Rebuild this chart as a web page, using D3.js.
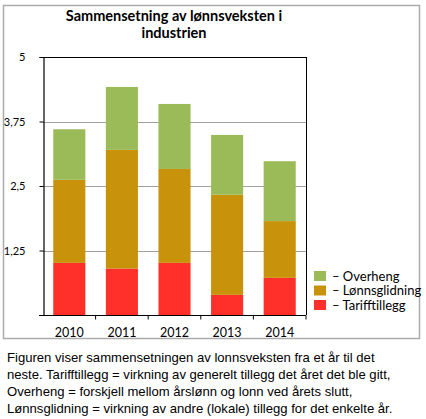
<!DOCTYPE html>
<html><head><meta charset="utf-8">
<script src="https://cdn.jsdelivr.net/npm/d3@7"></script>
<style>body{margin:0;background:#fff}svg{display:block}</style>
</head><body>
<script>
const years = ["2010","2011","2012","2013","2014"];
const tarifftillegg = [1.01, 0.90, 1.01, 0.39, 0.72];
const lonnsglidning = [1.61, 2.30, 1.82, 1.94, 1.10];
const overheng = [0.98, 1.22, 1.26, 1.16, 1.16];
const seriesNames = ["Tarifftillegg","Lønnsglidning","Overheng"];
const seriesColors = ["#FF2F2A","#C8920A","#9BBB59"];
const yTicks = [0, 1.25, 2.5, 3.75, 5];
const yTickLabels = ["", "1,25", "2,5", "3,75", "5"];
const caption = [
  "Figuren viser sammensetningen av lonnsveksten fra et år til det",
  "neste. Tarifftillegg = virkning av generelt tillegg det året det ble gitt,",
  "Overheng = forskjell mellom årslønn og lonn ved årets slutt,",
  "Lønnsglidning = virkning av andre (lokale) tillegg for det enkelte år."
];

(function(){
const W = 426, H = 419;
const svg = d3.select("body").append("svg").attr("width", W).attr("height", H);
svg.append("rect").attr("width", W).attr("height", H).attr("fill", "#fff");
// outer frame
svg.append("rect").attr("x", 3.5).attr("y", 5.5).attr("width", 416).attr("height", 333)
  .attr("fill", "none").attr("stroke", "#ababab").attr("stroke-width", 1.5);

const pL = 43, pR = 306, pT = 57, pB = 315;
const x = d3.scaleBand().domain(years).range([pL, pR]).paddingInner(0.39).paddingOuter(0.195);
const y = d3.scaleLinear().domain([0, 5]).range([pB, pT]);

// gridlines
svg.append("g").selectAll("line").data(yTicks.filter(t => t > 0 && t < 5)).join("line")
  .attr("x1", pL).attr("x2", pR).attr("y1", d => Math.round(y(d)) + 0.5).attr("y2", d => Math.round(y(d)) + 0.5)
  .attr("stroke", "#a0a0a0").attr("stroke-width", 1);

// stacked bars
const rows = years.map((yr, i) => ({year: yr, Tarifftillegg: tarifftillegg[i], "Lønnsglidning": lonnsglidning[i], Overheng: overheng[i]}));
const stack = d3.stack().keys(seriesNames)(rows);
svg.append("g").selectAll("g").data(stack).join("g")
  .attr("fill", (d, i) => seriesColors[i])
  .selectAll("rect").data(d => d).join("rect")
  .attr("x", d => x(d.data.year)).attr("width", x.bandwidth())
  .attr("y", d => y(d[1])).attr("height", d => y(d[0]) - y(d[1]));

// plot frame (top and right)
svg.append("line").attr("x1", pL).attr("x2", pR).attr("y1", pT + 0.5).attr("y2", pT + 0.5).attr("stroke", "#000");
svg.append("line").attr("x1", pR + 0.5).attr("x2", pR + 0.5).attr("y1", pT).attr("y2", pB).attr("stroke", "#000");

// y axis
const yAxis = d3.axisLeft(y).tickValues(yTicks).tickSize(4).tickPadding(14)
  .tickFormat((d, i) => yTickLabels[i]);
const gy = svg.append("g").attr("transform", `translate(${pL + 0.5},0)`).call(yAxis);
gy.select(".domain").attr("stroke", "#000").attr("stroke-width", 1.2);
gy.selectAll(".tick line").attr("stroke", "#000");
gy.selectAll("text").attr("font-family", "Lato, 'Open Sans', sans-serif").attr("font-size", 11).attr("fill", "#000");

// x axis
const xLine = d3.scaleLinear().domain([0, years.length]).range([pL, pR]);
const gx = svg.append("g").attr("transform", `translate(0,${pB + 0.5})`);
gx.append("line").attr("x1", pL - 4).attr("x2", pR).attr("stroke", "#000").attr("stroke-width", 1.2);
gx.selectAll("line.t").data(d3.range(1, years.length + 1)).join("line").attr("class", "t")
  .attr("x1", d => xLine(d)).attr("x2", d => xLine(d)).attr("y1", 0).attr("y2", 4).attr("stroke", "#000");
gx.selectAll("text").data(years).join("text")
  .attr("x", d => x(d) + x.bandwidth() / 2).attr("y", 21).attr("text-anchor", "middle")
  .attr("font-family", "Lato, 'Open Sans', sans-serif").attr("font-size", 12.5).attr("fill", "#000").text(d => d);

// title
const title = svg.append("text").attr("text-anchor", "middle").attr("font-family", "Lato, 'Open Sans', sans-serif")
  .attr("font-weight", "bold").attr("font-size", 14.5).attr("fill", "#000");
title.append("tspan").attr("x", 174).attr("y", 21).text("Sammensetning av lønnsveksten i");
title.append("tspan").attr("x", 174).attr("y", 38).text("industrien");

// legend
const legendOrder = [2, 1, 0];
const lg = svg.append("g");
legendOrder.forEach((si, k) => {
  const yy = 271 + k * 14.5;
  lg.append("rect").attr("x", 314).attr("y", yy).attr("width", 12).attr("height", 10).attr("fill", seriesColors[si]);
  lg.append("text").attr("x", 332).attr("y", yy + 9.5).attr("font-family", "Lato, 'Open Sans', sans-serif")
    .attr("font-size", 13).attr("fill", "#000").text("– " + seriesNames[si]);
});

// caption
const cap = svg.append("text").attr("font-family", "'Liberation Sans', Arial, sans-serif").attr("font-size", 13.1).attr("fill", "#000");
caption.forEach((t, i) => cap.append("tspan").attr("x", 7).attr("y", 362 + i * 17).text(t));
})();
</script>
</body></html>
